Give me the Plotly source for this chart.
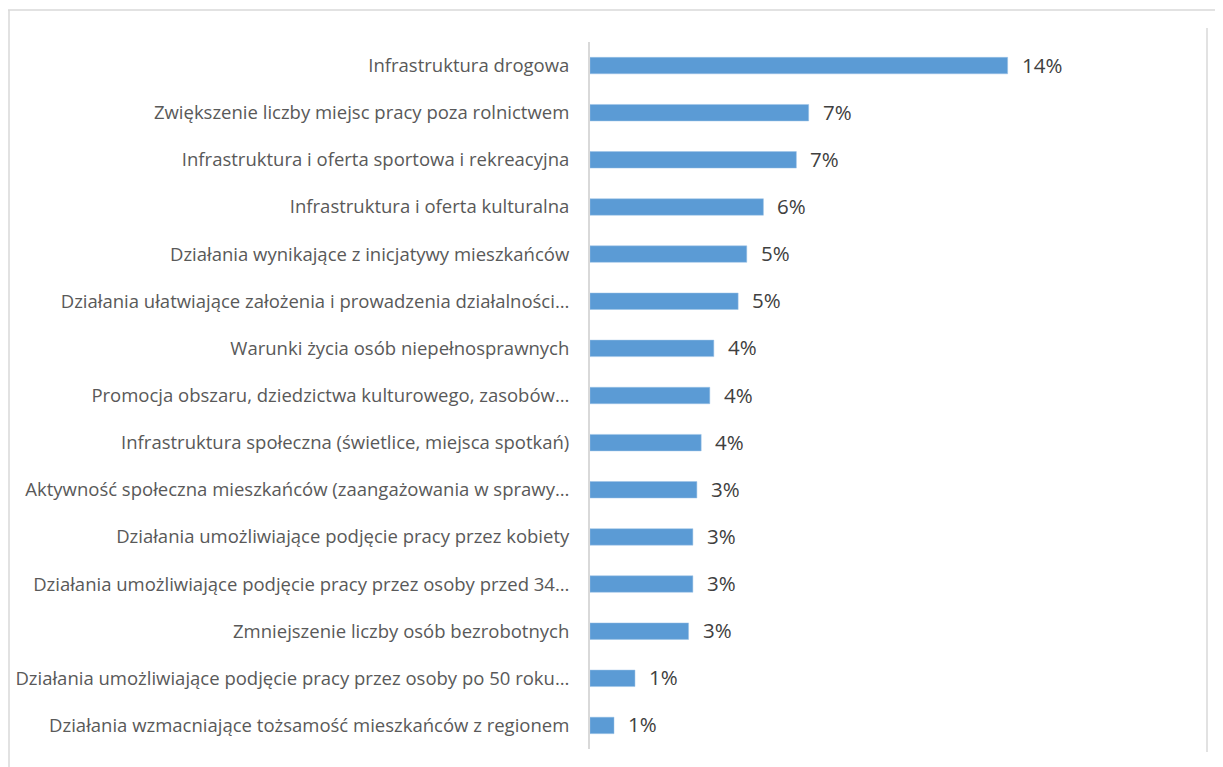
import plotly.graph_objects as go

categories = [
    "Infrastruktura drogowa",
    "Zwiększenie liczby miejsc pracy poza rolnictwem",
    "Infrastruktura i oferta sportowa i rekreacyjna",
    "Infrastruktura i oferta kulturalna",
    "Działania wynikające z inicjatywy mieszkańców",
    "Działania ułatwiające założenia i prowadzenia działalności…",
    "Warunki życia osób niepełnosprawnych",
    "Promocja obszaru, dziedzictwa kulturowego, zasobów…",
    "Infrastruktura społeczna (świetlice, miejsca spotkań)",
    "Aktywność społeczna mieszkańców (zaangażowania w sprawy…",
    "Działania umożliwiające podjęcie pracy przez kobiety",
    "Działania umożliwiające podjęcie pracy przez osoby przed 34…",
    "Zmniejszenie liczby osób bezrobotnych",
    "Działania umożliwiające podjęcie pracy przez osoby po 50 roku…",
    "Działania wzmacniające tożsamość mieszkańców z regionem",
]
values = [0.1356, 0.0710, 0.0670, 0.0563, 0.0509, 0.0481, 0.0402, 0.0389,
          0.0361, 0.0347, 0.0334, 0.0334, 0.0320, 0.0146, 0.0078]
labels = [f"{round(v * 100)}%" for v in values]

# plot area in figure pixels
L, R, T, B = 582, 1198, 34, 741
PW, PH = R - L, B - T


def px(fx):
    return (fx - L) / PW


def py(fy):
    return (B - fy) / PH


fig = go.Figure()
fig.add_trace(go.Bar(
    x=values, y=categories, orientation="h",
    marker=dict(color="#5B9BD5", line=dict(color="#9DC3E6", width=0.5)),
    hoverinfo="skip",
))

for v, c, t in zip(values, categories, labels):
    fig.add_annotation(x=v, y=c, text=t, showarrow=False, xanchor="left",
                       xshift=12, yshift=1,
                       font=dict(family="Open Sans", size=20.5, color="#404040"))

border = dict(color="#D9D9D9", width=1.5)
fig.update_layout(
    width=1223, height=767,
    margin=dict(l=L, r=1223 - R, t=T, b=767 - B, autoexpand=False),
    paper_bgcolor="white", plot_bgcolor="white",
    showlegend=False, bargap=0.65,
    font=dict(family="Open Sans", size=18.5, color="#595959"),
    xaxis=dict(range=[0, 0.2], showgrid=False, showticklabels=False,
               zeroline=False, showline=False, ticks="", automargin=False),
    yaxis=dict(autorange="reversed", showgrid=False, ticks="",
               showline=True, linecolor="#D9D9D9", linewidth=2,
               ticklabelstandoff=15, automargin=False,
               tickfont=dict(family="Open Sans", size=18.5, color="#595959")),
    shapes=[
        dict(type="line", xref="paper", yref="paper", x0=px(0), x1=px(1223),
             y0=py(2), y1=py(2), line=border),
        dict(type="line", xref="paper", yref="paper", x0=px(1), x1=px(1),
             y0=py(2), y1=py(767), line=border),
        dict(type="line", xref="paper", yref="paper", x0=px(1199), x1=px(1199),
             y0=py(20), y1=py(744), line=border),
    ],
)

fig.write_html("out.html")
